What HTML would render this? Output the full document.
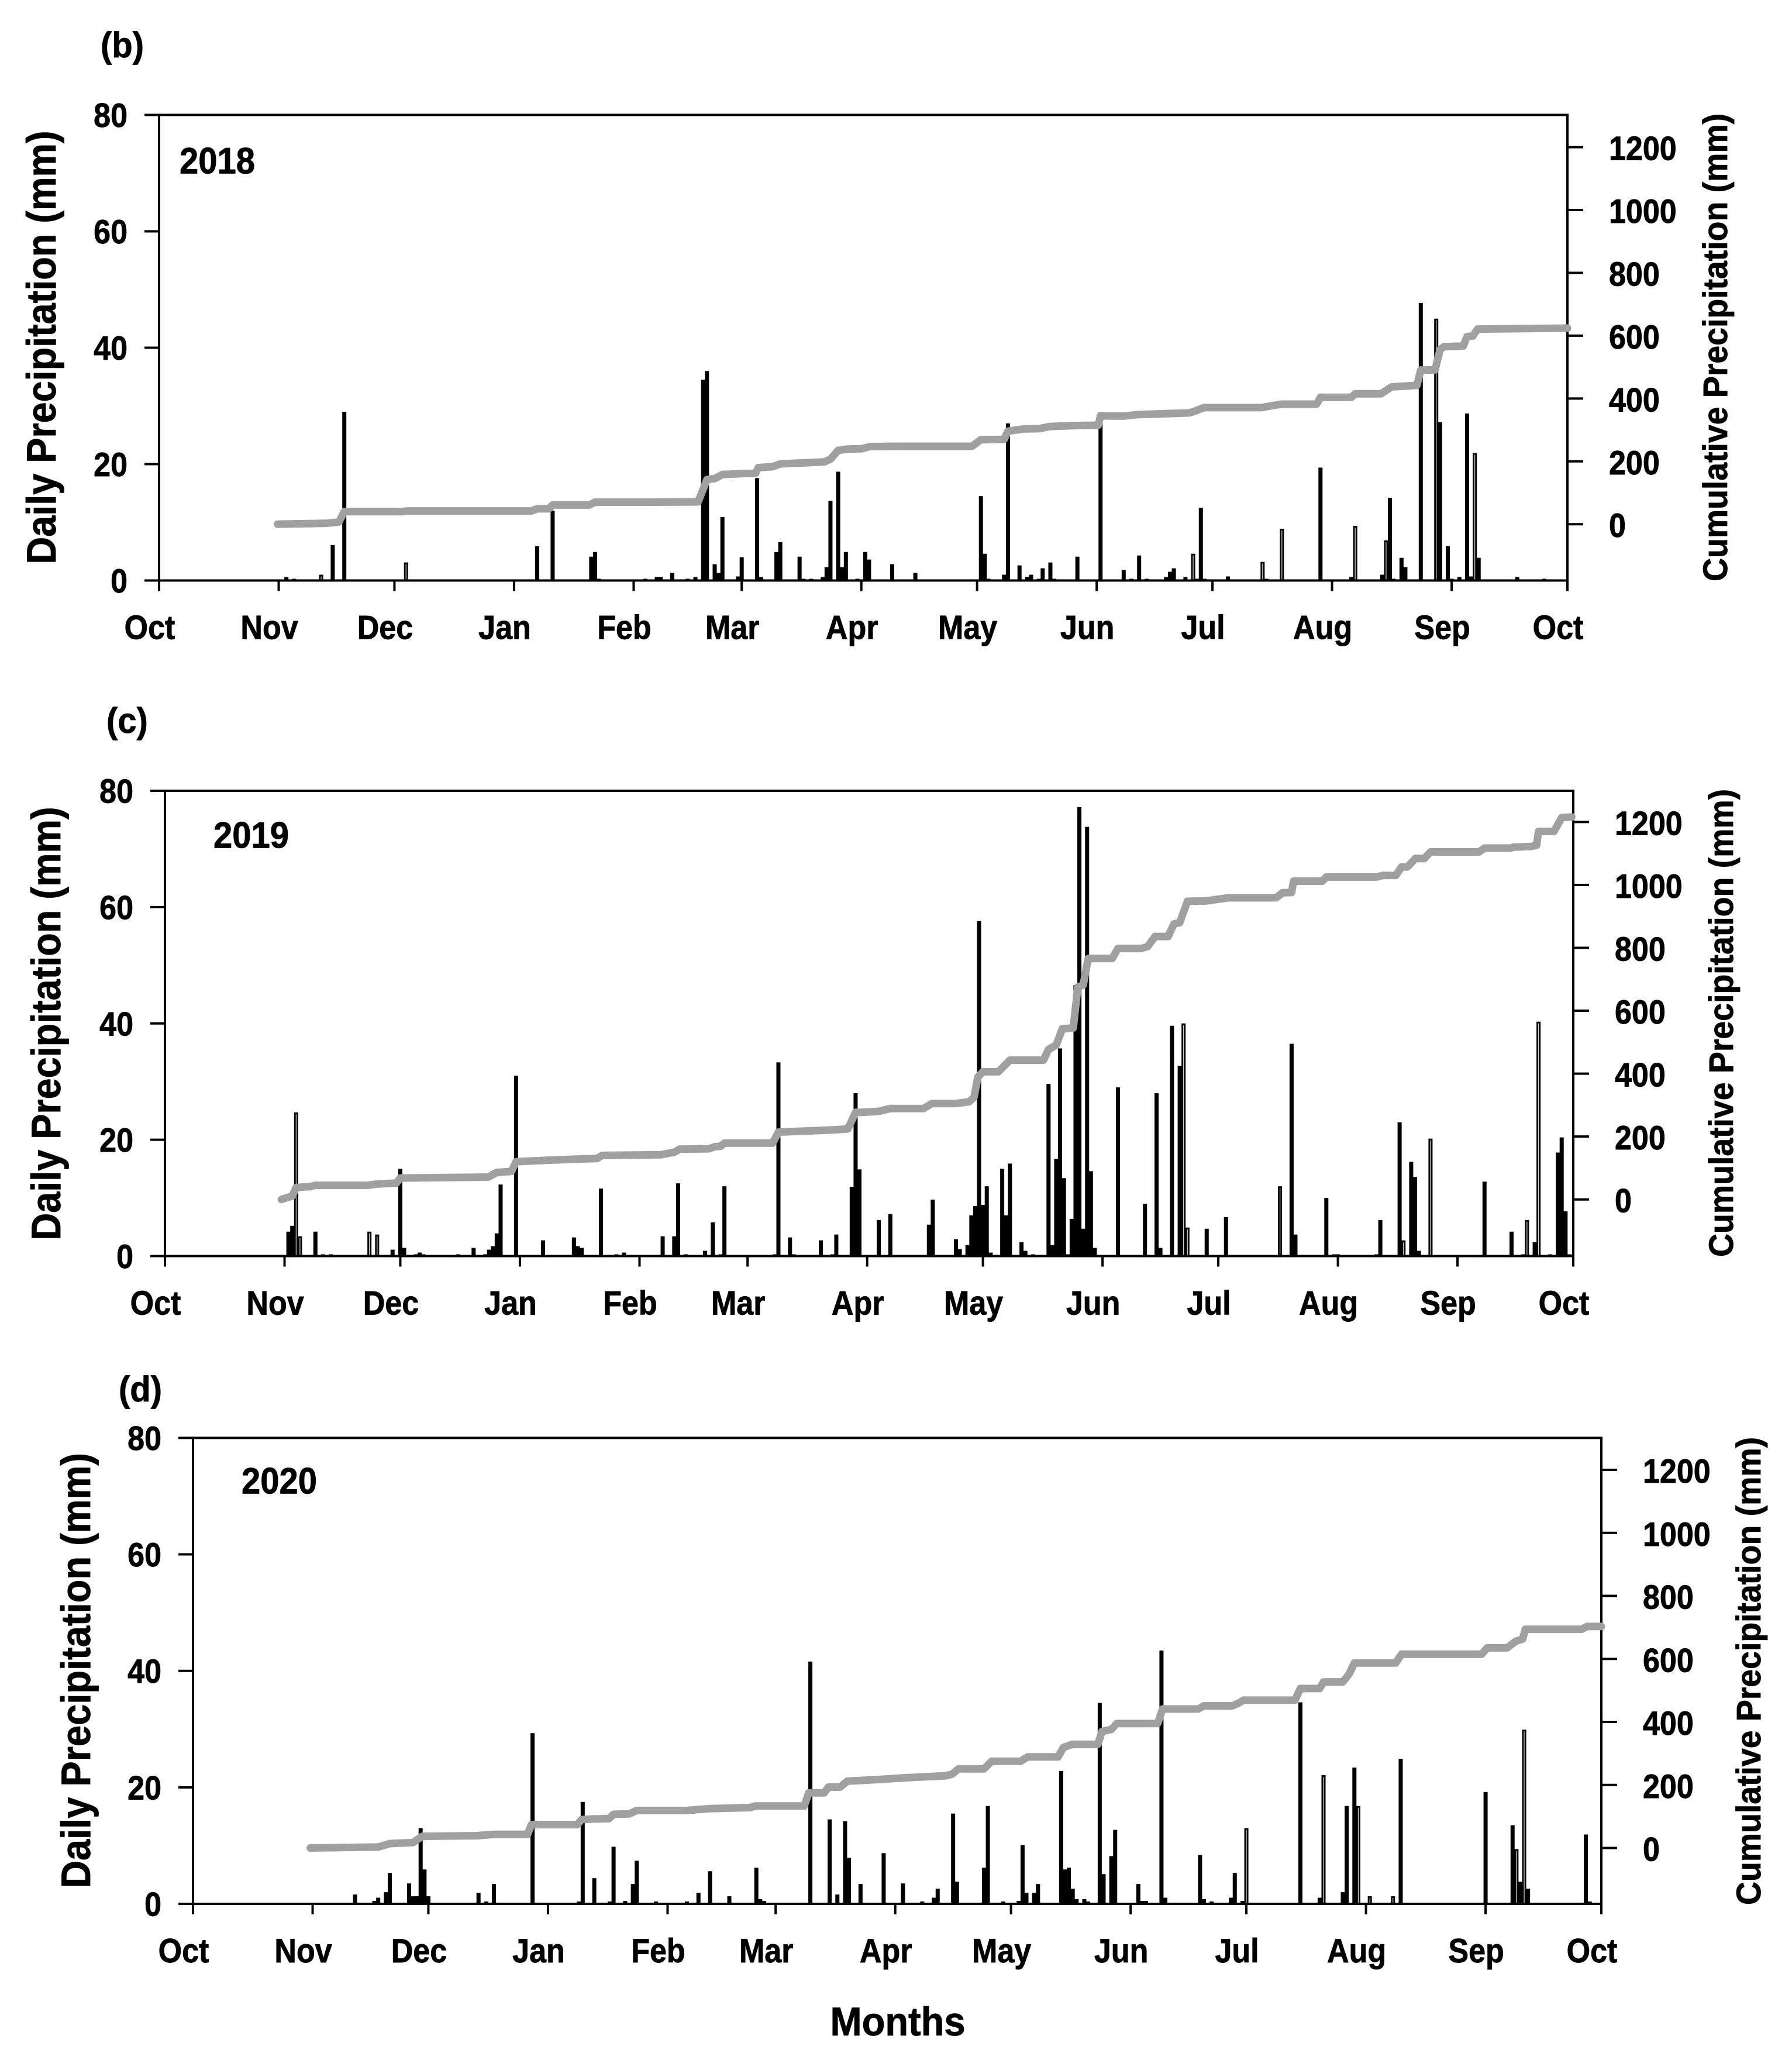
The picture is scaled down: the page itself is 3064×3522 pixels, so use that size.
<!DOCTYPE html>
<html lang="en">
<head>
<meta charset="utf-8">
<title>Daily and cumulative precipitation 2018-2020</title>
<style>
html,body{margin:0;padding:0;background:#fff;}
svg{display:block;}
text{font-family:"Liberation Sans",Arial,sans-serif;font-weight:bold;fill:#000;stroke:#000;stroke-width:0.8px;}
</style>
</head>
<body>
<svg id="figure" xmlns="http://www.w3.org/2000/svg" width="3064" height="3522" viewBox="0 0 3064 3522">
<rect x="0" y="0" width="3064" height="3522" fill="#fff"/>

<g id="panel-2018">
<text transform="translate(172,98) scale(1,1.06)" font-size="58">(b)</text>
<text transform="translate(307,296.5) scale(1,1.08)" font-size="58">2018</text>
<text transform="translate(95,594) rotate(-90) scale(1,1.08)" text-anchor="middle" font-size="65" textLength="741" lengthAdjust="spacingAndGlyphs">Daily Precipitation (mm)</text>
<text transform="translate(2953,594) rotate(-90) scale(1,1.05)" text-anchor="middle" font-size="55.5" textLength="800" lengthAdjust="spacingAndGlyphs">Cumulative Precipitation (mm)</text>
</g>

<g id="panel-2019">
<text transform="translate(182,1253) scale(1,1.06)" font-size="58">(c)</text>
<text transform="translate(365,1449.5) scale(1,1.08)" font-size="58">2019</text>
<text transform="translate(103,1750) rotate(-90) scale(1,1.08)" text-anchor="middle" font-size="65" textLength="741" lengthAdjust="spacingAndGlyphs">Daily Precipitation (mm)</text>
<text transform="translate(2963,1749) rotate(-90) scale(1,1.05)" text-anchor="middle" font-size="55.5" textLength="800" lengthAdjust="spacingAndGlyphs">Cumulative Precipitation (mm)</text>
</g>

<g id="panel-2020">
<text transform="translate(203,2396) scale(1,1.06)" font-size="58">(d)</text>
<text transform="translate(413,2553.5) scale(1,1.08)" font-size="58">2020</text>
<text transform="translate(154,2856) rotate(-90) scale(1,1.08)" text-anchor="middle" font-size="65" textLength="744" lengthAdjust="spacingAndGlyphs">Daily Precipitation (mm)</text>
<text transform="translate(3010,2857) rotate(-90) scale(1,1.05)" text-anchor="middle" font-size="55.5" textLength="800" lengthAdjust="spacingAndGlyphs">Cumulative Precipitation (mm)</text>
</g>

<text transform="translate(1535,3480) scale(1,1.05)" text-anchor="middle" font-size="65">Months</text>
</svg>

<script>
// Shared axis data
const monthLabels = ["Oct","Nov","Dec","Jan","Feb","Mar","Apr","May","Jun","Jul","Aug","Sep","Oct"];
const monthStartDays = [0,31,61,92,123,151,182,212,243,273,304,335,365];
const leftTicks = [0,20,40,60,80];
const rightTicks = [0,200,400,600,800,1000,1200];

// 2018: daily precipitation (day since 1 Oct, mm)
const days2018 = [33,35,42,45,48,64,98,102,112,113,114,126,129,130,133,137,139,141,142,144,145,146,150,151,155,156,160,161,166,167,169,172,173,174,176,177,178,181,183,184,190,196,213,214,215,219,220,223,225,226,228,229,231,232,238,244,250,252,254,256,261,262,263,266,268,269,270,271,277,286,287,291,301,309,310,317,318,319,320,322,323,327,331,332,334,335,337,339,340,341,342,352,359];
const rain2018 = [0.6,0.3,1,6.1,29,3.1,5.9,12,4.1,4.9,0.3,0.3,0.6,0.6,1.3,0.3,0.6,34.5,36,2.8,1.3,10.9,0.7,4,17.6,0.6,4.9,6.6,4.1,0.3,0.3,0.6,2.3,13.7,18.7,2.3,4.9,0.3,4.9,3.6,2.8,1.3,14.5,4.6,0.3,1,27,2.6,0.6,1,0.3,2.1,3.1,0.3,4.1,28.9,1.8,0.3,4.3,0.3,0.6,1.5,2.1,0.6,4.6,0.3,12.5,0.3,0.7,3.2,0.3,8.9,19.4,0.6,9.4,1,6.9,14.2,0.3,3.9,2.3,47.7,45,27.2,5.9,0.3,0.6,28.7,0.7,21.9,3.9,0.6,0.3];
const hollow2018 = [42,64,268,286,291,310,318,331,341];
const cumDays2018 = [30.7,43.6,46.6,48,63,64.5,96.5,98,101,102,111.4,113,125.5,139.7,142,144,146,151,154.6,155.3,159,161,166.5,172.4,174,176,178.4,182,184.3,192,210.7,213,219,220,224,228,231,238,243.4,244,250,253.9,267,268.5,270.8,285.6,290.8,300,301,309,310,316.7,319.4,326,327,330.7,332,333,338,339,340.5,341.7,365];
const cumRain2018 = [0,3,7,40,40,42,42,49,49,61,61,70,70,71,142,145,158,161,162,180,183,192,195,198,207,235,239,240,247,248,248,269,270,296,303,304,311,314,315,345,344,349,354,360,371,371,382,382,404,404,415,415,437,442,491,491,556,565,567,597,599,621,624];

// 2019: daily precipitation (day since 1 Oct, mm)
const days2019 = [32,33,34,35,39,41,43,53,55,59,61,62,65,66,67,76,80,83,84,85,86,87,91,98,106,107,108,113,117,119,129,132,133,135,140,142,144,145,158,159,162,163,170,173,174,178,179,180,185,188,198,199,205,206,208,209,210,211,212,213,214,217,218,219,222,223,225,229,230,231,232,233,234,235,236,237,238,239,240,241,247,254,257,258,261,263,264,265,270,275,289,292,293,301,303,304,314,315,320,321,323,324,325,328,342,349,352,353,355,356,359,361,362,363,364];
const rain2019 = [4.2,5.2,24.7,3.4,4.2,0.3,0.3,4.2,3.7,1.1,15,1.4,0.3,0.6,0.3,0.3,1.4,0.3,1.1,1.7,3.9,12.3,31,2.7,3.2,1.7,1.4,11.6,0.3,0.6,3.4,3.4,12.5,0.3,0.9,5.8,0.3,12,0.3,33.3,3.2,0.3,2.7,0.3,3.7,11.9,28,14.9,6.2,7.2,5.4,9.7,2.9,1.2,1.9,7,8.6,57.6,8.8,12,0.6,15,7,15.9,2.4,0.9,0.3,29.6,1.9,16.7,35.7,13.4,0.3,6.4,46.6,77.2,4.7,73.8,14.6,1.4,29,9,28,1.4,39.6,32.7,40,4.9,4.7,6.7,12,36.5,3.7,10,0.3,0.3,0.3,6.2,23,2.7,16.2,13.6,0.9,20.2,12.8,4.2,0.3,6.2,2.4,40.3,0.3,17.8,20.4,7.7,0.3];
const hollow2019 = [34,35,53,55,264,265,289,321,328,353,356];
const cumDays2019 = [30.2,33,34,37.7,39,52.6,54.8,60,61,83.8,86,89.8,91,98,106,112,113.3,128.5,132,133.4,141,142.6,144,145,157.5,159,173,177,179,180.6,185,188,196.6,198.8,205,208.5,209.7,210.7,212,216,219,227.7,229,231,232.6,235.4,236.6,238,239.3,245.5,247,253,254.7,256.6,260,261.5,263,265,269.7,275.6,288,289.6,292,292.5,300,301,314,315.6,319,320.5,322,324.1,326.4,328,340.6,342,348.8,349.5,354,355.5,356,360,362,364.6];
const cumRain2019 = [0,11,38,41,45,45,49,52,68,71,86,89,120,124,128,130,140,142,150,160,161,168,169,179,179,214,221,224,277,277,280,289,289,305,305,311,325,389,406,406,443,443,477,491,543,545,675,682,766,766,798,798,804,836,836,876,880,948,949,959,959,975,976,1012,1012,1025,1025,1030,1030,1057,1057,1084,1084,1105,1105,1117,1117,1120,1122,1126,1170,1170,1214,1216];

// 2020: daily precipitation (day since 1 Oct, mm)
const days2020 = [42,47,48,50,51,56,57,58,59,60,61,74,76,78,88,100,101,104,108,109,112,114,115,120,128,131,134,139,146,147,148,160,165,167,169,170,173,179,184,189,192,193,197,198,205,206,210,214,215,216,218,219,225,226,227,228,229,231,232,235,236,238,239,245,246,247,251,252,261,262,264,269,270,272,273,287,292,293,298,299,301,302,305,311,313,335,342,343,344,345,346,361,362];
const rain2020 = [1.6,0.5,1.05,2,5.3,3.5,1.3,1.3,13,5.9,1.3,1.9,0.4,3.4,29.3,0.4,17.5,4.4,0.4,9.8,0.5,3.4,7.4,0.4,0.4,1.9,5.6,1.3,6.2,0.8,0.5,41.6,14.5,1.6,14.2,7.9,3.4,8.7,3.5,0.4,1.05,2.6,15.5,3.8,6.2,16.8,0.4,0.5,10.1,1.9,1.9,3.4,22.8,5.9,6.2,2.6,0.8,0.8,0.4,34.5,5.1,8.2,12.7,3.4,0.5,0.5,43.5,1.05,8.4,0.8,0.4,1.05,5.3,0.5,13,34.6,1.05,22.1,2,16.8,23.4,16.8,1.3,1.3,24.9,19.2,13.5,9.4,3.8,29.9,2.6,11.9,0.4];
const hollow2020 = [273,293,302,305,311,343,345];
const cumDays2020 = [30.4,48,51,57,59.4,73.6,78,86.7,87.7,99.6,100.7,103.8,107.8,109,113,115,128,134,144.3,145.8,158.4,159.6,163.6,164.7,167.7,169.6,172.6,178.5,184.8,195,196.7,198.4,205,207,214.5,216.3,224.2,225.6,227.9,234.5,235.6,238,239.4,250,251.3,260.5,262,269.4,270.9,272.3,285.6,287,292,293,298,299.6,301,311.7,313.2,334,335.4,340.6,342.8,344.6,345.3,359.9,361.3,365];
const cumRain2020 = [0,3,14,17,37,39,43,43,74,74,90,92,93,107,108,119,119,125,128,133,133,175,175,193,193,212,214,218,223,229,234,251,251,275,275,289,289,319,329,329,370,376,395,395,441,441,451,451,459,469,469,506,506,527,527,551,587,587,615,615,635,635,656,663,694,694,703,703];

// Axis ranges
const dayMax = 365;
const leftMax = 80;

function make(parent, tag, attrs, content) {
  const node = document.createElementNS('http://www.w3.org/2000/svg', tag);
  Object.keys(attrs).forEach(function (k) { node.setAttribute(k, attrs[k]); });
  if (content !== undefined) node.textContent = content;
  parent.appendChild(node);
  return node;
}

function drawPanel(groupId, year, frame, days, rain, hollow, cumDays, cumRain) {
  const g = document.getElementById(groupId);
  const xAt = function (d) { return frame.left + d / dayMax * (frame.right - frame.left); };
  const yLeft = function (v) { return frame.bottom - v / leftMax * (frame.bottom - frame.top); };
  const yRight = function (v) { return frame.zeroRight - v / 1200 * (frame.zeroRight - frame.topRight); };
  const axisW = 4;
  const tickScale = 'scale(1,1.1)';

  // Bars
  days.forEach(function (d, i) {
    const bar = make(g, 'rect', { x: xAt(d) - 3.5, y: yLeft(rain[i]), width: 7, height: frame.bottom - yLeft(rain[i]), fill: '#000' });
    
    
    if (hollow.indexOf(d) >= 0 && rain[i] > 0.8) {
      const slit = make(g, 'rect', { x: xAt(d) - 0.6, y: yLeft(rain[i]) + 3, width: 1.2, height: frame.bottom - yLeft(rain[i]) - 3, fill: '#ddd' });
      
      
    }
  });

  // Frame
  const box = make(g, 'rect', { x: frame.left, y: frame.top, width: frame.right - frame.left, height: frame.bottom - frame.top, fill: 'none', stroke: '#000', 'stroke-width': axisW });
  
  

  // Left ticks + labels
  leftTicks.forEach(function (v) {
    const t = make(g, 'line', { x1: frame.left - 25, x2: frame.left, y1: yLeft(v), y2: yLeft(v), stroke: '#000', 'stroke-width': axisW });
    
    
    const l = make(g, 'text', { transform: 'translate(' + (frame.left - 54) + ',' + (yLeft(v) + 20.5) + ') ' + tickScale, 'text-anchor': 'end', 'font-size': 52 }, String(v));
    
    
  });

  // Right ticks + labels
  rightTicks.forEach(function (v) {
    const t = make(g, 'line', { x1: frame.right, x2: frame.right + 27, y1: yRight(v), y2: yRight(v), stroke: '#000', 'stroke-width': axisW });
    
    
    const l = make(g, 'text', { transform: 'translate(' + (frame.right + 71) + ',' + (yRight(v) + 22) + ') ' + tickScale, 'font-size': 52 }, String(v));
    
    
  });

  // Month ticks + labels
  monthStartDays.forEach(function (d, i) {
    const t = make(g, 'line', { x1: xAt(d), x2: xAt(d), y1: frame.bottom, y2: frame.bottom + 18, stroke: '#000', 'stroke-width': axisW });
    
    
    const l = make(g, 'text', { transform: 'translate(' + (xAt(d) - 16) + ',' + (frame.bottom + 100) + ') ' + tickScale, 'text-anchor': 'middle', 'font-size': 52 }, monthLabels[i]);
    
    
  });

  // Cumulative line
  const pts = cumDays.map(function (d, i) { return xAt(d).toFixed(1) + ',' + yRight(cumRain[i]).toFixed(1); }).join(' ');
  const line = make(g, 'polyline', { points: pts, fill: 'none', stroke: '#a0a0a0', 'stroke-width': 13, 'stroke-linejoin': 'round', 'stroke-linecap': 'round' });
  
  
}

drawPanel('panel-2018', 2018, { left: 272, right: 2680, top: 196.5, bottom: 992.5, zeroRight: 896.2, topRight: 251.6 }, days2018, rain2018, hollow2018, cumDays2018, cumRain2018);
drawPanel('panel-2019', 2019, { left: 282, right: 2690, top: 1352, bottom: 2147.5, zeroRight: 2050.7, topRight: 1405.4 }, days2019, rain2019, hollow2019, cumDays2019, cumRain2019);
drawPanel('panel-2020', 2020, { left: 330, right: 2738, top: 2458.4, bottom: 3255, zeroRight: 3159.5, topRight: 2513 }, days2020, rain2020, hollow2020, cumDays2020, cumRain2020);
</script>
</body>
</html>
